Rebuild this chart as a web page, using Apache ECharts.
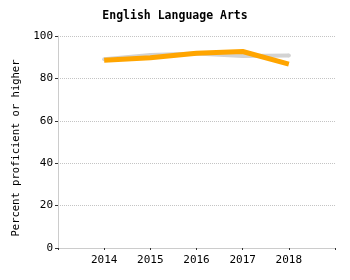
<!DOCTYPE html>
<html>
<head>
<meta charset="utf-8">
<script src="https://cdn.jsdelivr.net/npm/echarts@6/dist/echarts.min.js"></script>
<style>
  html, body { margin: 0; padding: 0; background: #fff; }
  #chart { width: 350px; height: 280px; }
</style>
</head>
<body>
<div id="chart"></div>
<script>
const years = [2014, 2015, 2016, 2017, 2018]
const schoolValues = [88.6, 89.7, 91.9, 92.7, 86.7]
const stateValues = [89.0, 91.0, 91.8, 90.6, 90.8]
const yTicks = [0, 20, 40, 60, 80, 100]

const font = 'DejaVu Sans Mono'
const chart = echarts.init(document.getElementById('chart'))

chart.setOption({
  animation: false,
  title: {
    text: 'English Language Arts',
    left: 'center',
    top: 5,
    textStyle: { fontFamily: font, fontSize: 11.5, fontWeight: 'bold', color: '#000' },
  },
  grid: { left: 58, right: 15, top: 36, bottom: 32 },
  xAxis: {
    type: 'value',
    min: 2013,
    max: 2019,
    interval: 1,
    axisLine: { lineStyle: { color: '#ccc' } },
    axisTick: { show: true, length: 2, lineStyle: { color: '#333' } },
    axisLabel: {
      customValues: years,
      formatter: (v) => String(v),
      fontFamily: font,
      fontSize: 11,
      color: '#000',
      margin: 7,
    },
    splitLine: { show: false },
  },
  yAxis: {
    type: 'value',
    min: 0,
    max: 100,
    interval: 20,
    name: 'Percent proficient or higher',
    nameLocation: 'middle',
    nameGap: 33,
    nameTextStyle: { fontFamily: font, fontSize: 10.5, color: '#000', padding: [0, 12, 0, 0] },
    axisLine: { show: true, lineStyle: { color: '#ccc' } },
    axisTick: { show: true, length: 3, lineStyle: { color: '#333' } },
    axisLabel: { customValues: yTicks, fontFamily: font, fontSize: 11, color: '#000', margin: 5 },
    splitLine: { lineStyle: { color: '#c4c4c4', type: 'dotted' } },
  },
  series: [
    {
      name: 'State',
      type: 'line',
      data: years.map((y, i) => [y, stateValues[i]]),
      symbol: 'circle',
      symbolSize: 4,
      itemStyle: { color: '#d3d3d3' },
      lineStyle: { color: '#d3d3d3', width: 4 },
      z: 2,
    },
    {
      name: 'School',
      type: 'line',
      data: years.map((y, i) => [y, schoolValues[i]]),
      symbol: 'none',
      lineStyle: { color: '#ffa500', width: 5 },
      z: 3,
    },
  ],
})
</script>
</body>
</html>
